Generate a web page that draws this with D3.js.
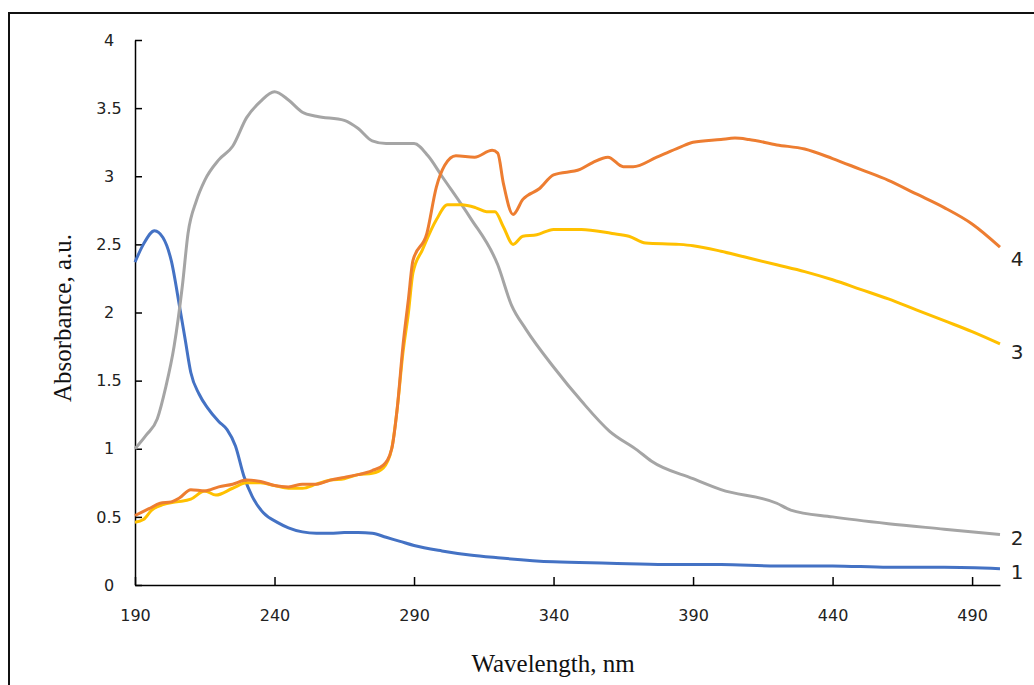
<!DOCTYPE html>
<html>
<head>
<meta charset="utf-8">
<script src="https://cdn.jsdelivr.net/npm/d3@7"></script>
<style>
  body { margin: 0; background: #fff; }
</style>
</head>
<body>
<div id="canvas"></div>
<script>
// ////////// DATA /////////////

// series 1 (blue)
var wl1 = [190, 193, 197, 200, 203, 206, 208, 210, 213, 216, 220, 223, 226, 229, 232, 236, 241, 245, 250, 255, 260, 265, 270, 275, 280, 285, 290, 300, 310, 320, 340, 360, 380, 400, 420, 440, 460, 480, 500];
var abs1 = [2.37, 2.5, 2.6, 2.55, 2.38, 2.04, 1.8, 1.56, 1.4, 1.3, 1.2, 1.14, 1.02, 0.8, 0.65, 0.53, 0.46, 0.42, 0.39, 0.38, 0.38, 0.385, 0.385, 0.38, 0.35, 0.32, 0.29, 0.25, 0.22, 0.2, 0.17, 0.16, 0.15, 0.15, 0.14, 0.14, 0.13, 0.13, 0.12];

// series 2 (grey)
var wl2 = [190, 194, 198, 201, 204, 207, 209, 212, 215, 220, 225, 230, 235, 240, 245, 250, 255, 265, 270, 275, 280, 290, 295, 300, 310, 320, 325, 330, 340, 350, 360, 370, 375, 390, 400, 420, 425, 440, 460, 480, 500];
var abs2 = [1.0, 1.1, 1.22, 1.45, 1.75, 2.2, 2.58, 2.82, 2.97, 3.12, 3.22, 3.43, 3.55, 3.62, 3.56, 3.47, 3.44, 3.41, 3.35, 3.26, 3.24, 3.24, 3.15, 3.0, 2.7, 2.35, 2.05, 1.88, 1.6, 1.35, 1.13, 0.99, 0.91, 0.78, 0.7, 0.6, 0.55, 0.5, 0.45, 0.41, 0.37];

// series 3 (yellow)
var wl3 = [190, 193, 196, 200, 205, 210, 215, 219, 225, 230, 235, 240, 245, 250, 255, 260, 265, 270, 275, 279, 282, 284, 286, 288, 289.6, 293, 298, 302, 307, 312, 316, 319, 322, 325.5, 329, 334, 340, 350, 361, 367, 373, 385, 390, 400, 410, 420, 430, 440, 450, 460, 470, 480, 490, 500];
var abs3 = [0.46, 0.48, 0.55, 0.59, 0.61, 0.63, 0.69, 0.66, 0.71, 0.75, 0.75, 0.73, 0.71, 0.71, 0.74, 0.77, 0.78, 0.81, 0.82, 0.86, 1.0, 1.3, 1.7, 2.0, 2.29, 2.46, 2.68, 2.79, 2.79, 2.77, 2.74, 2.74, 2.63, 2.5, 2.56, 2.57, 2.61, 2.61, 2.58, 2.56, 2.51, 2.5, 2.49, 2.45, 2.4, 2.35, 2.3, 2.24, 2.17, 2.1, 2.02, 1.94, 1.86, 1.77];

// series 4 (orange)
var wl4 = [190, 195, 199, 203, 206, 210, 215, 220, 225, 230, 235, 240, 245, 250, 255, 260, 265, 270, 275, 279, 282, 284, 286, 288, 289.6, 294.6, 298, 301, 305, 311.7, 318, 320, 322, 325.5, 329, 335, 340, 349.5, 354, 359.5, 365, 368.5, 377, 385, 390, 400, 405, 410, 420, 430, 440, 450, 460, 470, 480, 490, 500];
var abs4 = [0.51, 0.56, 0.6, 0.61, 0.64, 0.7, 0.69, 0.72, 0.74, 0.77, 0.76, 0.73, 0.72, 0.74, 0.74, 0.77, 0.79, 0.81, 0.84, 0.88, 1.0, 1.3, 1.75, 2.1, 2.38, 2.58, 2.92, 3.08, 3.15, 3.14, 3.19, 3.17, 2.95, 2.72, 2.83, 2.91, 3.01, 3.05, 3.1, 3.14, 3.07, 3.07, 3.14, 3.21, 3.25, 3.27, 3.28, 3.27, 3.23, 3.2, 3.13, 3.05, 2.97, 2.87, 2.77, 2.65, 2.48];

var seriesNames = ["1", "2", "3", "4"];
var seriesColors = ["#4472C4", "#A5A5A5", "#FFC000", "#ED7D31"];

var xTicks = [190, 240, 290, 340, 390, 440, 490];
var yTicks = [0, 0.5, 1, 1.5, 2, 2.5, 3, 3.5, 4];

///////// GLOBAL VARS //////////

var width = 1034, height = 685;

var series = [
  { name: seriesNames[0], color: seriesColors[0], pts: wl1.map((w, i) => [w, abs1[i]]) },
  { name: seriesNames[1], color: seriesColors[1], pts: wl2.map((w, i) => [w, abs2[i]]) },
  { name: seriesNames[2], color: seriesColors[2], pts: wl3.map((w, i) => [w, abs3[i]]) },
  { name: seriesNames[3], color: seriesColors[3], pts: wl4.map((w, i) => [w, abs4[i]]) }
];

var svg = d3.select("#canvas")
  .append("svg")
  .attr("width", width)
  .attr("height", height)
  .style("display", "block");

// frame (top + left edges only are visible)
svg.append("path")
  .attr("d", `M9,${height} L9,13 L${width},13`)
  .attr("fill", "none")
  .attr("stroke", "#111")
  .attr("stroke-width", 2);

var x = d3.scaleLinear()
  .domain([190, 500])
  .range([135, 1000]);

var y = d3.scaleLinear()
  .domain([0, 4])
  .range([585, 40]);

// y axis, ticks pointing inward
var yAxis = svg.append("g")
  .attr("transform", `translate(${x(190)},0)`)
  .call(d3.axisRight(y).tickValues(yTicks).tickSize(7).tickFormat(d3.format("")).tickSizeOuter(0));
yAxis.select(".domain").attr("stroke", "#000").attr("stroke-width", 1.5);
yAxis.selectAll(".tick line").attr("stroke", "#000").attr("stroke-width", 1.5);
yAxis.selectAll(".tick text")
  .attr("x", -26)
  .attr("text-anchor", "middle")
  .attr("font-family", "DejaVu Sans, Verdana, sans-serif")
  .attr("font-size", 16)
  .attr("fill", "#222");

// x axis, ticks pointing up
var xAxis = svg.append("g")
  .attr("transform", `translate(0,${y(0)})`)
  .call(d3.axisTop(x).tickValues(xTicks).tickSize(8).tickSizeOuter(0));
xAxis.select(".domain").attr("stroke", "#000").attr("stroke-width", 1.5);
xAxis.selectAll(".tick line").attr("stroke", "#000").attr("stroke-width", 1.5);
xAxis.selectAll(".tick text")
  .attr("y", 30)
  .attr("dy", "0.35em")
  .attr("font-family", "DejaVu Sans, Verdana, sans-serif")
  .attr("font-size", 16)
  .attr("fill", "#222");

// lines
var line = d3.line()
  .x(d => x(d[0]))
  .y(d => y(d[1]))
  .curve(d3.curveMonotoneX);

svg.selectAll("path.series")
  .data(series)
  .join("path")
  .attr("class", "series")
  .attr("d", d => line(d.pts))
  .attr("fill", "none")
  .attr("stroke", d => d.color)
  .attr("stroke-width", 3)
  .attr("stroke-linejoin", "round");

// series labels at line ends
svg.selectAll("text.lbl")
  .data(series)
  .join("text")
  .attr("class", "lbl")
  .attr("x", 1017)
  .attr("y", d => y(d.pts[d.pts.length - 1][1]) + (d.name == "4" ? 12 : d.name == "3" ? 8 : 3))
  .attr("dy", "0.35em")
  .attr("text-anchor", "middle")
  .attr("font-family", "DejaVu Sans, Verdana, sans-serif")
  .attr("font-size", 20)
  .attr("fill", "#222")
  .text(d => d.name);

// axis titles
svg.append("text")
  .attr("x", 553)
  .attr("y", 672)
  .attr("text-anchor", "middle")
  .attr("font-family", "Liberation Serif, Times New Roman, serif")
  .attr("font-size", 25)
  .attr("fill", "#111")
  .text("Wavelength, nm");

svg.append("text")
  .attr("transform", "translate(71,318) rotate(-90)")
  .attr("text-anchor", "middle")
  .attr("font-family", "Liberation Serif, Times New Roman, serif")
  .attr("font-size", 25)
  .attr("fill", "#111")
  .text("Absorbance, a.u.");
</script>
</body>
</html>
